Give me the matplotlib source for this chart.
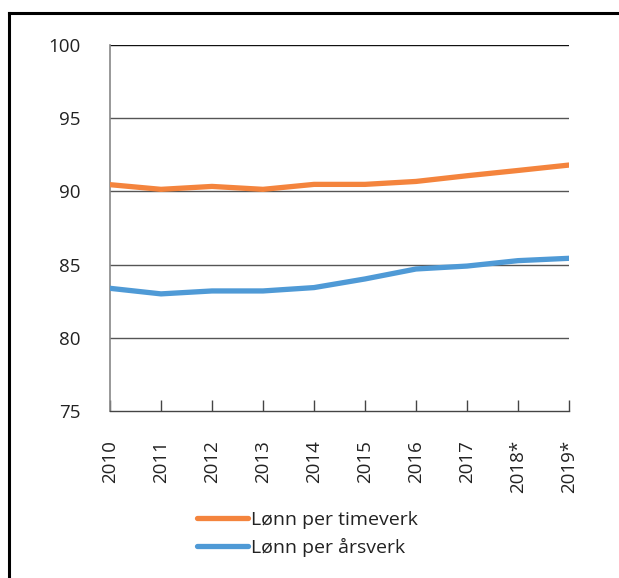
import matplotlib
matplotlib.use("Agg")
import matplotlib.pyplot as plt
from matplotlib.lines import Line2D

years = ["2010", "2011", "2012", "2013", "2014", "2015", "2016", "2017", "2018*", "2019*"]
timeverk = [90.46, 90.14, 90.34, 90.14, 90.48, 90.48, 90.68, 91.07, 91.43, 91.8]
arsverk = [83.38, 83.0, 83.2, 83.2, 83.43, 84.02, 84.7, 84.9, 85.27, 85.43]
series_labels = ["Lønn per timeverk", "Lønn per årsverk"]
yticks = [75, 80, 85, 90, 95, 100]

plt.rcParams['font.family'] = ['Open Sans', 'DejaVu Sans']

fig = plt.figure(figsize=(6.19, 5.78), dpi=100)
ax = fig.add_axes([110/619, 1-411/578, (569-110)/619, (411-45)/578])

x = list(range(len(years)))
ax.plot(x, timeverk, color='#F4843D', lw=3.8, solid_capstyle='round', label=series_labels[0], zorder=3)
ax.plot(x, arsverk, color='#4F9AD6', lw=3.8, solid_capstyle='round', label=series_labels[1], zorder=3)

ax.set_xlim(0, len(years)-1)
ax.set_ylim(75, 100)
ax.set_yticks(yticks)
ax.set_yticklabels([str(v) for v in yticks], fontsize=13.5, color='#222222')
for v in yticks[1:-1]:
    ax.axhline(v, color='#555555', lw=1.0, zorder=1)
ax.axhline(100, color='#111111', lw=1.0, zorder=1)

ax.set_xticks(x)
ax.set_xticklabels(years, rotation=90, fontsize=13.5, color='#222222', va='top')
ax.tick_params(axis='x', direction='in', length=8, width=1, color='#444444', pad=21)
ax.tick_params(axis='y', length=0, pad=21)

for s in ['top', 'right']:
    ax.spines[s].set_visible(False)
ax.spines['left'].set_color('#888888')
ax.spines['left'].set_linewidth(1.2)
ax.spines['bottom'].set_color('#444444')
ax.spines['bottom'].set_linewidth(1.0)

leg = fig.legend(loc='upper left', bbox_to_anchor=(197/619, 1-511/578), frameon=False,
                 fontsize=14, handlelength=2.6, handletextpad=0.2, labelspacing=0.45,
                 borderaxespad=0, borderpad=0)
for t in leg.get_texts():
    t.set_color('#222222')

# outer frame (top and left edges)
fig.add_artist(Line2D([9/619, 1.0], [1-13/578, 1-13/578], color='black', lw=2.2, transform=fig.transFigure))
fig.add_artist(Line2D([9/619, 9/619], [0, 1-13/578], color='black', lw=2.2, transform=fig.transFigure))

fig.savefig("out.png", dpi=100)
